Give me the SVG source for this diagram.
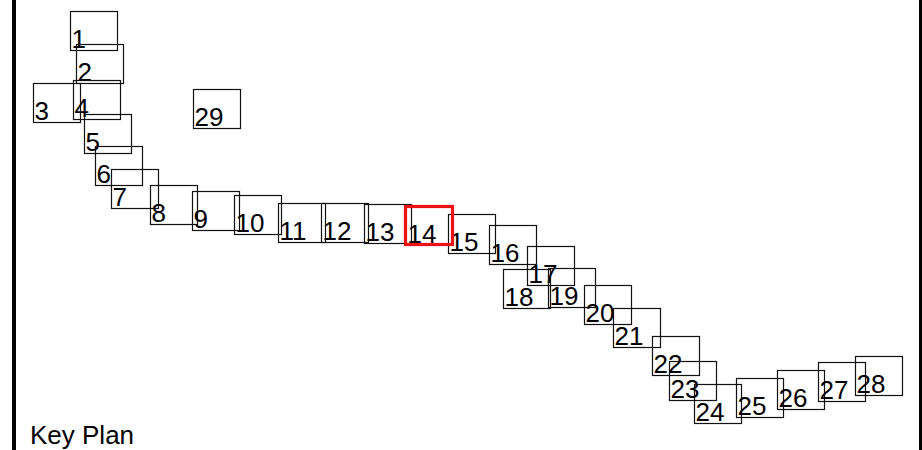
<svg xmlns="http://www.w3.org/2000/svg" width="922" height="450" viewBox="0 0 922 450">
<style>
rect.b{fill:none;stroke:#111;stroke-width:1.2}
rect.sel{fill:none;stroke:#ee1111;stroke-width:3.2}
text{font-family:"Liberation Sans",Arial,sans-serif;font-size:26px;fill:#000}
</style>
<rect x="0" y="0" width="922" height="450" fill="#fff"/>
<rect x="12" y="0" width="4" height="450" fill="#000"/>
<rect x="919" y="0" width="3" height="450" fill="#000"/>
<g id="connectors"></g>
<g id="n1"><rect class="b" x="70.5" y="11.5" width="47" height="39"/><text x="71.5" y="48">1</text></g>
<g id="n2"><rect class="b" x="76.5" y="44.5" width="47" height="39"/><text x="77.5" y="81">2</text></g>
<g id="n3"><rect class="b" x="33.5" y="83.5" width="47" height="39"/><text x="34.5" y="120">3</text></g>
<g id="n4"><rect class="b" x="73.5" y="80.5" width="47" height="39"/><text x="74.5" y="117">4</text></g>
<g id="n5"><rect class="b" x="84.5" y="114.5" width="47" height="39"/><text x="85.5" y="151">5</text></g>
<g id="n6"><rect class="b" x="95.5" y="146.5" width="47" height="39"/><text x="96.5" y="183">6</text></g>
<g id="n7"><rect class="b" x="111.5" y="169.5" width="47" height="39"/><text x="112.5" y="206">7</text></g>
<g id="n8"><rect class="b" x="150.5" y="185.5" width="47" height="39"/><text x="151.5" y="222">8</text></g>
<g id="n9"><rect class="b" x="192.5" y="191.5" width="47" height="39"/><text x="193.5" y="228">9</text></g>
<g id="n10"><rect class="b" x="234.5" y="195.5" width="47" height="39"/><text x="235.5" y="232">10</text></g>
<g id="n11"><rect class="b" x="278.5" y="203.5" width="47" height="39"/><text x="279.5" y="240">11</text></g>
<g id="n12"><rect class="b" x="321.5" y="203.5" width="47" height="39"/><text x="322.5" y="240">12</text></g>
<g id="n13"><rect class="b" x="364.5" y="204.5" width="47" height="39"/><text x="365.5" y="241">13</text></g>
<g id="n15"><rect class="b" x="448.5" y="214.5" width="47" height="39"/><text x="449.5" y="251">15</text></g>
<g id="n16"><rect class="b" x="489.5" y="225.5" width="47" height="39"/><text x="490.5" y="262">16</text></g>
<g id="n17"><rect class="b" x="527.5" y="246.5" width="47" height="39"/><text x="528.5" y="283">17</text></g>
<g id="n18"><rect class="b" x="503.5" y="269.5" width="47" height="39"/><text x="504.5" y="306">18</text></g>
<g id="n19"><rect class="b" x="548.5" y="268.5" width="47" height="39"/><text x="549.5" y="305">19</text></g>
<g id="n20"><rect class="b" x="584.5" y="285.5" width="47" height="39"/><text x="585.5" y="322">20</text></g>
<g id="n21"><rect class="b" x="613.5" y="308.5" width="47" height="39"/><text x="614.5" y="345">21</text></g>
<g id="n22"><rect class="b" x="652.5" y="336.5" width="47" height="39"/><text x="653.5" y="373">22</text></g>
<g id="n23"><rect class="b" x="669.5" y="361.5" width="47" height="39"/><text x="670.5" y="398">23</text></g>
<g id="n24"><rect class="b" x="694.5" y="384.5" width="47" height="39"/><text x="695.5" y="421">24</text></g>
<g id="n25"><rect class="b" x="736.5" y="378.5" width="47" height="39"/><text x="737.5" y="415">25</text></g>
<g id="n26"><rect class="b" x="777.5" y="370.5" width="47" height="39"/><text x="778.5" y="407">26</text></g>
<g id="n27"><rect class="b" x="818.5" y="362.5" width="47" height="39"/><text x="819.5" y="399">27</text></g>
<g id="n28"><rect class="b" x="855.5" y="356.5" width="47" height="39"/><text x="856.5" y="393">28</text></g>
<g id="n29"><rect class="b" x="193.5" y="89.5" width="47" height="39"/><text x="194.5" y="126">29</text></g>
<g id="n14"><rect class="sel" x="405.5" y="206.5" width="47" height="38"/><text x="407.5" y="242.5">14</text></g>
<text id="title" x="30" y="444">Key Plan</text>
</svg>
